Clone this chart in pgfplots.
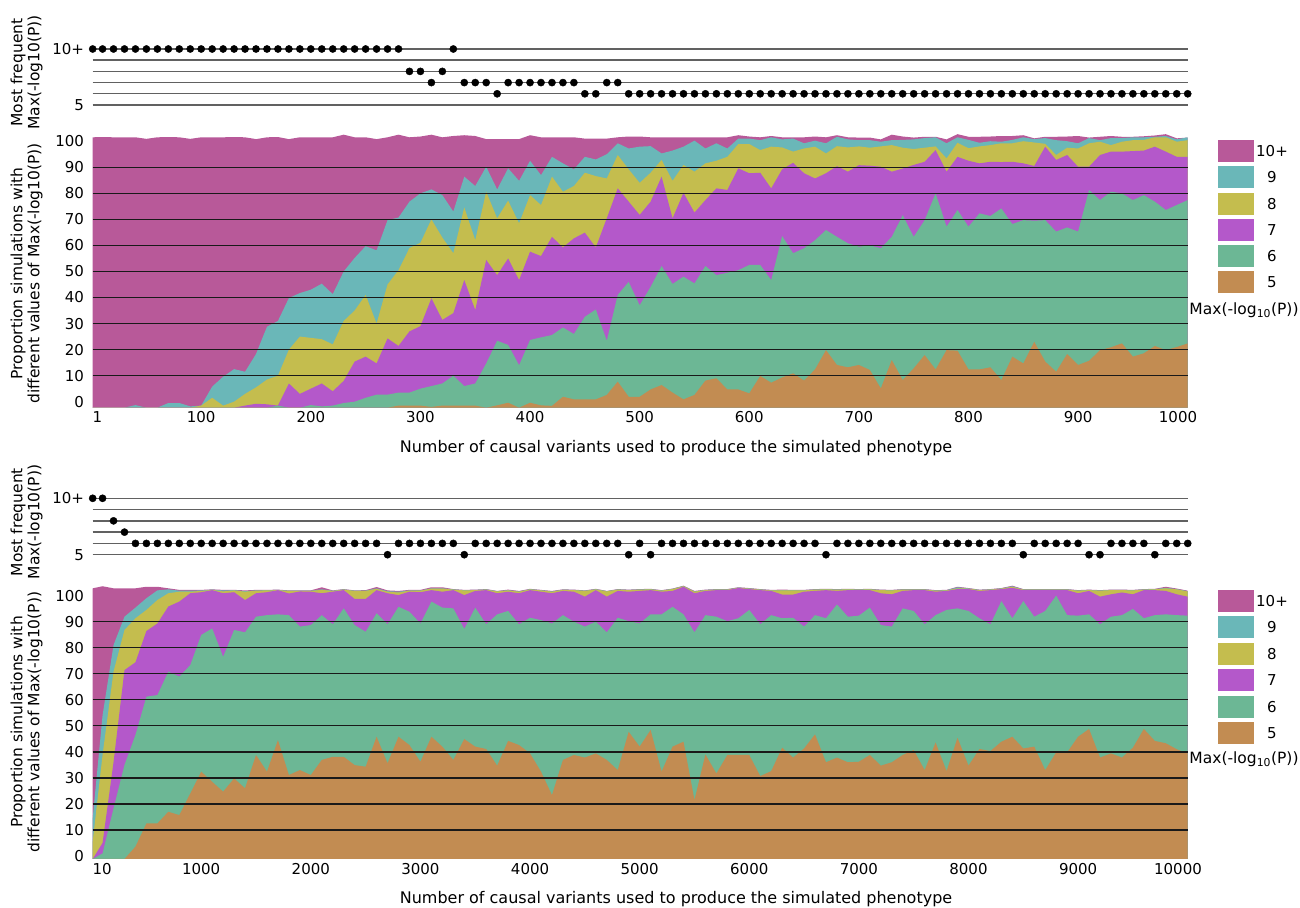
\documentclass[border=0pt]{standalone}
\usepackage{fontspec}
\setmainfont{DejaVu Sans}
\usepackage{pgfplots}
\pgfplotsset{compat=1.18}
\usepackage{pgfplotstable}
\usepgfplotslibrary{fillbetween}

\definecolor{cA}{HTML}{B85999}
\definecolor{cB}{HTML}{6AB7B8}
\definecolor{cC}{HTML}{C4BD4E}
\definecolor{cD}{HTML}{B458CA}
\definecolor{cE}{HTML}{6CB795}
\definecolor{cF}{HTML}{C28C52}

\newcommand\tickfont{\fontsize{15bp}{18bp}\selectfont}
\newcommand\labfont{\fontsize{15.5bp}{17bp}\selectfont}
\newcommand\titfont{\fontsize{16bp}{18bp}\selectfont}

\pgfplotsset{
  dotpanel/.style={scale only axis, width=1095bp, anchor=south west, clip=false,
    ymin=0, ymax=5, axis line style={draw=none}, major tick length=0pt,
    xtick=\empty, ytick={0,1,2,3,4,5}, yticklabels={5,{},{},{},{},10+},
    ymajorgrids, major grid style={black!62, line width=1.4bp},
    yticklabel style={font=\tickfont, anchor=east, inner sep=0pt, xshift=-8.5bp}},
  areapanel/.style={scale only axis, width=1095bp, anchor=south west, axis on top,
    axis line style={draw=none}, major tick length=0pt, scaled x ticks=false,
    ytick={0,10,...,100}, yticklabels={0,10,20,30,40,50,60,70,80,90,100},
    extra y ticks={10,20,...,90}, extra y tick labels={}, extra y tick style={grid=major},
    major grid style={black!90, line width=1.35bp},
    yticklabel style={font=\tickfont, anchor=east, inner sep=0pt, xshift=-8.5bp},
    xticklabel style={font=\tickfont, anchor=north, inner sep=0pt, yshift=-3.8bp}},
}

\pgfplotstableread{
x o g p y t m
1 -2.3 -2.3 -2.3 -2.3 -2.3 101.5
10 -2.3 -2.3 -2.3 -2.3 -2.3 101.6
20 -2.3 -2.3 -2.3 -2.3 -2.3 101.5
30 -2.3 -2.3 -2.3 -2.3 -2.3 101.5
40 -2.3 -2.3 -2.3 -2.3 -1.3 101.5
50 -2.3 -2.3 -2.3 -2.3 -2.3 100.9
60 -2.3 -2.3 -2.3 -2.3 -2.3 101.5
70 -2.3 -2.3 -2.3 -2.3 -0.5 101.6
80 -2.3 -2.3 -2.3 -2.3 -0.5 101.5
90 -2.3 -2.3 -2.3 -2.3 -1.8 100.9
100 -2.3 -2.3 -2.3 -1.5 -1.5 101.5
110 -2.3 -2.3 -2.3 1.5 5.8 101.5
120 -2.3 -2.3 -2.3 -1.5 9.6 101.5
130 -2.3 -2.3 -2.3 0 12.5 101.6
140 -2.3 -2.3 -1.5 3 11.5 101.5
150 -2.3 -2.3 -0.8 5.5 18.3 100.8
160 -2.3 -2.3 -1 8.5 28.8 101.5
170 -2.3 -1.5 -1.5 10 31 101.6
180 -2.3 -2.3 7 20 39.8 100.8
190 -2.3 -2.3 3 25 41.7 101.5
200 -2.3 -1.3 5 24.5 43 101.5
210 -2.3 -1.8 7 24 45.3 101.5
220 -2.3 -1.5 4 22 41.3 101.5
230 -2.3 -0.5 8 31 50 102.5
240 -2.3 0 15.4 35 55.2 101.5
250 -2.3 1.5 17.3 41 59.7 101.5
260 -2.3 2.7 14.7 30 58.1 100.8
270 -2.3 2.7 24.3 45 69.7 101.5
280 -1.5 3.5 21.4 50.5 70.7 102.5
290 -1.5 3.5 27 59 76.8 101.5
300 -1.5 5 29 61 80 101.8
310 -2 6 39.7 70 81.5 102.5
320 -1.5 7 31.4 63 79.3 101.5
330 -1.5 10 34 57 73 102
340 -1.5 6 46.7 74.6 86.4 102.3
350 -1.5 7 35.2 62 82.8 102
360 -2.3 14.7 54.4 80.6 90.2 100.8
370 -1.4 23.4 48.6 70.4 81.5 100.8
380 -0.4 21.8 55 77.2 89.6 100.8
390 -2.3 14 46.7 68.5 84.8 100.8
400 -0.4 23.7 57.6 79.3 92.5 102.3
410 -1.4 24.7 55.9 75.5 87 101.5
420 -1.6 25.6 63.3 86.4 94 101.5
430 1.9 28.5 59.2 80.6 91.5 101.5
440 0.9 26 62.7 82.8 89.2 101.5
450 0.9 32.6 64.9 87.9 94 101
460 0.9 35.4 59.2 86.6 93 101
470 2.6 23.4 70.4 85.7 95 101
480 7.7 41 81.9 94.7 99.2 101.5
490 1.9 46 76.8 89.2 97.2 101.8
500 1.9 37 71.7 84 97.9 101.8
510 4.7 44.1 76.8 87.9 98.1 101.5
520 6.4 52.1 86.4 92.8 95.3 101.5
530 3.5 45.2 70.4 84.8 96.4 101.5
540 0.9 48 80.2 90.9 97.9 101.5
550 2.6 45.4 72.6 88.3 100.2 101.5
560 8.1 52.1 77.4 91.5 97.2 101.5
570 9 48.6 81.9 92.5 99.2 101.5
580 4.7 49.5 81.3 94 97.2 101.5
590 4.7 50.5 89.6 98.9 101 102.3
600 3.2 52.5 87.7 98.9 101 101.8
610 9.9 52.5 87.9 96.6 100.4 101.5
620 7.3 46.7 81.9 97.9 101.5 102
630 9.3 63.6 89.2 97.6 100.7 101.5
640 10.9 57 91.7 96 101 101.5
650 8.1 58.9 87.7 97.2 99.2 101.5
660 12.4 62 85.7 97.9 100.2 101.8
670 19.8 65.9 87.7 95.3 99.2 101.5
680 14.1 63.3 90.4 98.1 101.7 102.3
690 13.2 60.8 88.3 97.6 100.7 101.5
700 14.1 59.5 90.8 98 100.4 101.4
710 12.2 60 90.6 97.5 100.4 101.4
720 5.1 58.9 90.2 98 99.8 100.7
730 16 63.3 88.3 98.5 100.4 102.5
740 8.3 71.6 89.5 97.5 100.5 101.8
750 12.8 63.3 90.9 97 100.7 101.4
760 17.9 69.7 92.1 97.5 101.2 101.7
770 12.4 80 96.6 98 101.5 101.7
780 19.8 67.2 88.3 93.4 99.2 100.7
790 19.6 73.6 94 99.4 101.5 102.7
800 12.4 67.2 92.5 97.3 100.5 101.7
810 12.4 72.3 91.5 98 99.4 101.7
820 13.2 71.3 92.1 98.5 100 101.8
830 8.3 74.2 92 99.2 99.8 102
840 17.3 68.2 92.1 99.2 100.5 102
850 14.7 69.7 91.5 100 101.5 102.3
860 23 69.5 90.5 99.5 100.8 101.1
870 15.4 69.7 97.9 99 101.2 101.7
880 11.5 65.3 92.8 94.7 100.4 101.7
890 18.3 66.9 94.7 97.5 100 101.8
900 14.1 65.3 90.2 97.2 99.2 102
910 15.7 81.3 90.2 99.2 101.2 101.4
920 19.8 77.4 94.7 99.8 100.4 101.7
930 20.9 80.6 96 98.5 101.2 102
940 22.4 80 96 99.8 101.2 101.7
950 17.3 77.4 96.2 100.4 101.5 101.7
960 18.6 79.3 96.4 100.5 101.5 101.9
970 21.4 76.8 97.9 101.5 101.7 102.2
980 19.8 73.6 96 101.5 102 102.7
990 21 75.5 94 99.8 100.7 101.1
1000 22.4 77.4 94 100.4 101.5 101.4
}\tabB

\pgfplotstableread{
x o g p y t m
10 -1.15 -1.15 -1.15 5.5 14.5 102.8
100 -1.15 1 5 38.8 54 103.6
200 -1.15 18.3 36 70.8 81 102.8
300 -1.15 35 71.4 86.8 91.9 102.8
400 3.6 46.5 74.4 91.3 95.4 102.8
500 12.5 61.2 86.4 94.5 99 103.4
600 12.5 61.8 89.3 98.3 102 103.4
700 17 70.8 95.8 100.9 102.4 102.8
800 15.7 68.9 97.7 101.5 101.9 102.2
900 24 73.3 100.9 101.5 101.9 102.2
1000 32.4 84.9 101.3 101.8 102 102.2
1100 28.5 87.4 102.1 102.2 102.3 102.4
1200 24.7 76.5 100.9 101.6 102 102.2
1300 29.8 86.8 101.3 102 102.1 102.2
1400 26 85.9 98.3 101.5 101.7 102
1500 38.8 91.9 100.9 101.9 102 102.2
1600 32.4 92.5 101.3 102 102.1 102.2
1700 44.5 92.8 102.1 102.1 102.2 102.3
1800 31.1 92.5 100.8 101.8 101.9 102
1900 33 88.1 101.6 101.8 101.9 102
2000 31.1 88.7 101.5 101.8 101.9 102
2100 36.9 92.5 100.9 102.2 102.4 103.2
2200 38.1 89 101.5 101.8 101.9 102
2300 38.1 95.1 102.1 102.3 102.4 102.5
2400 34.9 88.7 98.7 101.8 101.9 102
2500 34.3 86.1 98.7 101.8 101.9 102.1
2600 45.8 93.2 102.1 102.6 102.8 103.3
2700 35.6 89 100.9 101.5 101.7 102
2800 45.8 95.7 100.2 101.2 101.5 101.8
2900 42.6 93.8 101.5 101.9 102 102.2
3000 36.2 89.3 101.3 101.9 102 102.2
3100 45.8 97.7 102.1 102.7 102.8 103.2
3200 42 95.4 101.5 102.7 102.8 103.2
3300 36.9 95.1 102.1 102.3 102.4 102.5
3400 44.9 87.2 100.2 102 102.1 102.2
3500 42 95.4 101.8 102.1 102.2 102.3
3600 41.1 89 102.1 102.3 102.4 102.5
3700 34.7 92.8 100.9 101.6 101.7 101.8
3800 44.2 94.1 101.5 102 102.1 102.3
3900 42.6 89 100.9 101.5 101.6 101.8
4000 39.4 91.5 102.1 102.4 102.5 102.6
4100 32.4 90.6 101.5 102 102.1 102.2
4200 23.4 89.3 100.9 101.5 101.6 101.8
4300 36.9 92.5 101.8 102.2 102.3 102.4
4400 38.8 90 101.5 102.1 102.2 102.3
4500 37.8 88.1 99.6 101.8 101.9 102
4600 39.4 90 102.1 102.4 102.5 102.6
4700 36.9 85.9 99.6 101.6 101.7 101.8
4800 33 91.5 101.8 102.3 102.4 102.5
4900 47.7 90.2 101.5 102.1 102.2 102.3
5000 42 89.3 101.8 102.3 102.4 102.5
5100 48.4 92.8 102.1 102.4 102.5 102.6
5200 32.4 92.8 101.5 101.9 102 102.1
5300 42 95.7 101.8 102.5 102.6 102.7
5400 43.9 92.8 103.4 103.6 103.7 103.8
5500 21.5 85.9 100.9 101.5 101.6 101.8
5600 39 92.5 101.8 102.1 102.2 102.3
5700 31.7 91.9 102.1 102.3 102.4 102.5
5800 38.8 90.2 102.1 102.3 102.4 102.5
5900 38.8 91.3 102.9 103 103.1 103.2
6000 38.8 94.5 102.5 102.7 102.8 102.9
6100 30.7 89 102.1 102.3 102.4 102.5
6200 32.6 92.5 101.8 102 102.1 102.2
6300 41.6 91.3 100.4 102 102.1 102.3
6400 37.8 91.5 100.4 102 102.1 102.2
6500 41.3 88.1 101.5 102 102.1 102.2
6600 46.7 92.5 101.8 102.3 102.4 102.5
6700 36 91.3 102.1 102.4 102.5 102.6
6800 37.8 96.6 101.8 102.3 102.4 102.5
6900 36 91.9 102.1 102.4 102.5 102.6
7000 36.2 92.3 102.1 102.3 102.4 102.5
7100 38.8 95.4 102.1 102.4 102.5 102.6
7200 34.7 88.7 100.9 102.1 102.2 102.3
7300 36 88.1 100.5 102 102.1 102.2
7400 38.8 95.1 101.8 102.3 102.4 102.5
7500 40.7 94.1 102.1 102.3 102.4 102.5
7600 33 89 102.1 102.3 102.4 102.5
7700 43.6 92.5 101.5 101.9 102 102.1
7800 32.6 94.5 101.8 102 102.1 102.2
7900 45.4 95.1 102.5 102.8 103.2 103.4
8000 34.7 94.1 102.5 102.7 102.8 102.9
8100 41.1 91.3 101.8 102.1 102.2 102.3
8200 40.3 89 102.1 102.3 102.4 102.5
8300 43.9 97.9 102.5 102.7 102.8 102.9
8400 45.8 91.3 103 103.4 103.6 103.8
8500 41.3 97.9 102.1 102.3 102.4 102.5
8600 42 91.9 102.1 102.3 102.4 102.5
8700 33 94.1 102.1 102.3 102.4 102.5
8800 39.8 100 102.1 102.3 102.4 102.5
8900 39.8 92.5 102.1 102.3 102.4 102.5
9000 45.8 92.3 100.9 101.9 102 102.1
9100 48.8 92.8 101.8 102.1 102.2 102.3
9200 37.8 89 99.6 101.9 102 102.1
9300 39.4 91.9 100.5 102.1 102.2 102.3
9400 37.8 92.5 101.2 102.1 102.2 102.3
9500 41.6 94.9 100.5 102 102.1 102.2
9600 48.8 91.3 102.1 102.3 102.4 102.5
9700 44.2 92.5 102.1 102.4 102.5 102.6
9800 43.3 92.8 101.8 102.8 103 103.4
9900 41 92.5 100.5 102.4 102.5 102.7
10000 39.4 92.3 99.6 101.6 101.7 101.9
}\tabD

\pgfplotstableread{
x r
1 5
10 5
20 5
30 5
40 5
50 5
60 5
70 5
80 5
90 5
100 5
110 5
120 5
130 5
140 5
150 5
160 5
170 5
180 5
190 5
200 5
210 5
220 5
230 5
240 5
250 5
260 5
270 5
280 5
290 3
300 3
310 2
320 3
330 5
340 2
350 2
360 2
370 1
380 2
390 2
400 2
410 2
420 2
430 2
440 2
450 1
460 1
470 2
480 2
490 1
500 1
510 1
520 1
530 1
540 1
550 1
560 1
570 1
580 1
590 1
600 1
610 1
620 1
630 1
640 1
650 1
660 1
670 1
680 1
690 1
700 1
710 1
720 1
730 1
740 1
750 1
760 1
770 1
780 1
790 1
800 1
810 1
820 1
830 1
840 1
850 1
860 1
870 1
880 1
890 1
900 1
910 1
920 1
930 1
940 1
950 1
960 1
970 1
980 1
990 1
1000 1
}\dotA

\pgfplotstableread{
x r
10 5
100 5
200 3
300 2
400 1
500 1
600 1
700 1
800 1
900 1
1000 1
1100 1
1200 1
1300 1
1400 1
1500 1
1600 1
1700 1
1800 1
1900 1
2000 1
2100 1
2200 1
2300 1
2400 1
2500 1
2600 1
2700 0
2800 1
2900 1
3000 1
3100 1
3200 1
3300 1
3400 0
3500 1
3600 1
3700 1
3800 1
3900 1
4000 1
4100 1
4200 1
4300 1
4400 1
4500 1
4600 1
4700 1
4800 1
4900 0
5000 1
5100 0
5200 1
5300 1
5400 1
5500 1
5600 1
5700 1
5800 1
5900 1
6000 1
6100 1
6200 1
6300 1
6400 1
6500 1
6600 1
6700 0
6800 1
6900 1
7000 1
7100 1
7200 1
7300 1
7400 1
7500 1
7600 1
7700 1
7800 1
7900 1
8000 1
8100 1
8200 1
8300 1
8400 1
8500 0
8600 1
8700 1
8800 1
8900 1
9000 1
9100 0
9200 0
9300 1
9400 1
9500 1
9600 1
9700 0
9800 1
9900 1
10000 1
}\dotC

\begin{document}
\begin{tikzpicture}
\path (0,0) rectangle (1300bp,908bp);

% ---------- Panel A: most frequent (1..1000)
\begin{axis}[dotpanel, at={(92.7bp,803bp)}, height=56bp, xmin=1, xmax=1000]
\addplot[only marks, mark=*, mark size=3.6bp, black] table[x=x,y=r]{\dotA};
\end{axis}

% ---------- Panel B: areas (1..1000)
\begin{axis}[areapanel, at={(92.7bp,500.3bp)}, height=276.9bp,
  xmin=1, xmax=1000, ymin=-2.3, ymax=104,
  xtick={1,100,200,300,400,500,600,700,800,900,1000},
  xticklabels={\makebox[0pt][l]{1},100,200,300,400,500,600,700,800,900,\makebox[0pt]{1000\hspace*{19.4bp}}}]
\addplot[name path=Bbase, draw=none] coordinates {(1,-2.3) (1000,-2.3)};
\addplot[name path=Bm, draw=none] table[x=x,y=m]{\tabB};
\addplot[name path=Bt, draw=none] table[x=x,y=t]{\tabB};
\addplot[name path=By, draw=none] table[x=x,y=y]{\tabB};
\addplot[name path=Bp, draw=none] table[x=x,y=p]{\tabB};
\addplot[name path=Bg, draw=none] table[x=x,y=g]{\tabB};
\addplot[name path=Bo, draw=none] table[x=x,y=o]{\tabB};
\addplot[fill=cA, draw=none] fill between[of=Bm and Bbase];
\addplot[fill=cB, draw=none] fill between[of=Bt and Bbase];
\addplot[fill=cC, draw=none] fill between[of=By and Bbase];
\addplot[fill=cD, draw=none] fill between[of=Bp and Bbase];
\addplot[fill=cE, draw=none] fill between[of=Bg and Bbase];
\addplot[fill=cF, draw=none] fill between[of=Bo and Bbase];
\end{axis}

% ---------- Panel C: most frequent (10..10000)
\begin{axis}[dotpanel, at={(92.7bp,353.3bp)}, height=56.4bp, xmin=10, xmax=10000]
\addplot[only marks, mark=*, mark size=3.6bp, black] table[x=x,y=r]{\dotC};
\end{axis}

% ---------- Panel D: areas (10..10000)
\begin{axis}[areapanel, at={(92.7bp,49bp)}, height=273.8bp,
  xmin=10, xmax=10000, ymin=-1.15, ymax=104,
  xtick={10,1000,2000,3000,4000,5000,6000,7000,8000,9000,10000},
  xticklabels={\makebox[0pt][l]{10},1000,2000,3000,4000,5000,6000,7000,8000,9000,\makebox[0pt]{10000\hspace*{19.4bp}}}]
\addplot[name path=Dbase, draw=none] coordinates {(10,-1.15) (10000,-1.15)};
\addplot[name path=Dm, draw=none] table[x=x,y=m]{\tabD};
\addplot[name path=Dt, draw=none] table[x=x,y=t]{\tabD};
\addplot[name path=Dy, draw=none] table[x=x,y=y]{\tabD};
\addplot[name path=Dp, draw=none] table[x=x,y=p]{\tabD};
\addplot[name path=Dg, draw=none] table[x=x,y=g]{\tabD};
\addplot[name path=Do, draw=none] table[x=x,y=o]{\tabD};
\addplot[fill=cA, draw=none] fill between[of=Dm and Dbase];
\addplot[fill=cB, draw=none] fill between[of=Dt and Dbase];
\addplot[fill=cC, draw=none] fill between[of=Dy and Dbase];
\addplot[fill=cD, draw=none] fill between[of=Dp and Dbase];
\addplot[fill=cE, draw=none] fill between[of=Dg and Dbase];
\addplot[fill=cF, draw=none] fill between[of=Do and Dbase];
\end{axis}

% ---------- axis titles
\node[font=\labfont, rotate=90, align=center, inner sep=0pt] at (26.5bp,835.5bp) {Most frequent\\Max(-log10(P))};
\node[font=\labfont, rotate=90, align=center, inner sep=0pt] at (26.5bp,634.5bp) {Proportion simulations with\\different values of Max(-log10(P))};
\node[font=\labfont, rotate=90, align=center, inner sep=0pt] at (26.5bp,386bp) {Most frequent\\Max(-log10(P))};
\node[font=\labfont, rotate=90, align=center, inner sep=0pt] at (26.5bp,186bp) {Proportion simulations with\\different values of Max(-log10(P))};
\node[font=\titfont, anchor=base, inner sep=0pt] at (676bp,455bp) {Number of causal variants used to produce the simulated phenotype};
\node[font=\titfont, anchor=base, inner sep=0pt] at (676bp,4.6bp) {Number of causal variants used to produce the simulated phenotype};

% ---------- legends
\foreach \yc/\col/\lab in {756.7/cA/10+, 730.5/cB/9, 704.3/cC/8, 678.1/cD/7, 651.9/cE/6, 625.7/cF/5}{
  \fill[\col] (1218bp,\yc bp-11bp) rectangle (1254bp,\yc bp+11bp);
  \node[font=\tickfont, inner sep=0pt] at (1272bp,\yc bp) {\lab};
}
\node[font=\labfont, inner sep=0pt] at (1244bp,598bp) {Max(-log\textsubscript{10}(P))};
\foreach \yc/\col/\lab in {307/cA/10+, 280.5/cB/9, 254/cC/8, 228/cD/7, 201.3/cE/6, 175/cF/5}{
  \fill[\col] (1218bp,\yc bp-11bp) rectangle (1254bp,\yc bp+11bp);
  \node[font=\tickfont, inner sep=0pt] at (1272bp,\yc bp) {\lab};
}
\node[font=\labfont, inner sep=0pt] at (1244bp,149bp) {Max(-log\textsubscript{10}(P))};
\end{tikzpicture}
\end{document}
